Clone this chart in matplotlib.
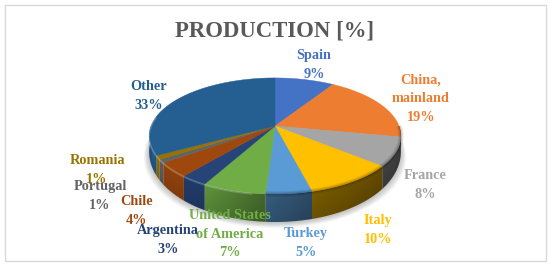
import numpy as np
import matplotlib
matplotlib.use('Agg')
import matplotlib.pyplot as plt
from matplotlib.colors import to_rgb
from matplotlib.patches import Polygon

# data, clockwise from 12 o'clock
names = ['Spain', 'China,\nmainland', 'France', 'Italy', 'Turkey', 'United States\nof America',
         'Argentina', 'Chile', 'Portugal', 'Romania', 'Other']
values = [9, 19, 8, 10, 5, 7, 3, 4, 1, 1, 33]
colors = ['#4472c4', '#ed7d31', '#a5a5a5', '#ffc000', '#5b9bd5', '#70ad47',
          '#264478', '#9e480e', '#636363', '#997300', '#255e91']
# label centres in pixels
label_pos = [(314, 65), (421, 99), (425, 185), (378, 230), (306, 243), (230, 234),
             (168, 240), (137, 211), (100, 196), (97, 170), (149, 96)]

CX, CY = 275, 126
R, K, P = 124, 56.3, 0.172


def top(theta):
    u, v = np.sin(theta), np.cos(theta)
    d = 1 + P * v
    return CX + R * u / d, CY - K * v / d


def bottom(theta):
    x, y = top(theta)
    return x, y + 13 - 15 * np.cos(theta)


fig = plt.figure(figsize=(5.5, 2.67), dpi=100)
ax = fig.add_axes([0, 0, 1, 1])
ax.axis('off')

# frame
ax.plot([5, 546, 546, 5, 5], [5, 5, 261, 261, 5], color='#d9d9d9', lw=1)

# soft shadow under the pie
tt = np.linspace(0, 2 * np.pi, 200)
bx, by = bottom(tt)
for i in range(8):
    ax.fill(CX + (bx - CX) * (1 + 0.006 * i), by + 1 + i * 0.7, color='k', alpha=0.03, lw=0, zorder=1)

edges = np.cumsum([0] + values) / sum(values) * 2 * np.pi

# shade of the wall, image over the whole pie: light on the left, dark on the right
gx, gy = np.meshgrid(np.arange(140, 410), np.arange(120, 225))
front = np.linspace(np.pi / 2, 3 * np.pi / 2, 300)
fx, fy = top(front)
bx2, by2 = bottom(front)
order = np.argsort(fx)
yt = np.interp(gx, fx[order], fy[order])
yb = np.interp(gx, bx2[order], by2[order])
f = np.clip((gy - yt) / (yb - yt + 1e-6), 0, 1)
base = np.interp(gx, [149, 200, 260, 320, 375, 401], [0.92, 0.84, 0.58, 0.44, 0.38, 0.36])
shade = base * (1.04 - 0.12 * f)

for i, c in enumerate(colors):
    a0, a1 = max(edges[i], np.pi / 2), min(edges[i + 1], 3 * np.pi / 2)
    if a1 <= a0:
        continue
    aa = np.linspace(a0, a1, 60)
    x0, y0 = top(aa)
    x1, y1 = bottom(aa)
    poly = Polygon(np.c_[np.r_[x0, x1[::-1]], np.r_[y0, y1[::-1]]], transform=ax.transData, fc='none', ec='none')
    ax.add_patch(poly)
    rgb = np.array(to_rgb(c))
    img = np.clip(shade[..., None] * rgb, 0, 1)
    ax.imshow(img, extent=[140, 410, 225, 120], aspect='auto', clip_path=poly, zorder=2, interpolation='bilinear')

ax.set_xlim(0, 550)
ax.set_ylim(267, 0)

# top face
for i, c in enumerate(colors):
    aa = np.linspace(edges[i], edges[i + 1], 60)
    x, y = top(aa)
    ax.fill(np.r_[CX, x], np.r_[CY, y], color=c, lw=0.3, zorder=3)

# dark soft edge on the right half of the rim, bright one on the left
aa = np.linspace(np.pi * 0.5, np.pi * 1.02, 120)
x, y = top(aa)
for w, al in [(4, 0.07), (2.5, 0.09), (1.2, 0.12)]:
    ax.plot(x, y, color='k', alpha=al, lw=w, zorder=4, solid_capstyle='butt')
aa = np.linspace(np.pi * 1.05, np.pi * 1.55, 120)
x, y = top(aa)
ax.plot(x, y + 0.8, color='white', alpha=0.22, lw=1.2, zorder=4)

for name, value, c, (lx, ly) in zip(names, values, colors, label_pos):
    ax.text(lx, ly, f'{name}\n{value}%', color=c, ha='center', va='center', fontsize=10.3,
            family='Liberation Serif', fontweight='bold', linespacing=1.55, zorder=6)

ax.text(275, 31, 'PRODUCTION [%]', color='#595959', ha='center', va='center', fontsize=16.4,
        family='Liberation Serif', fontweight='bold', zorder=6)

fig.savefig('out.png', dpi=100)
